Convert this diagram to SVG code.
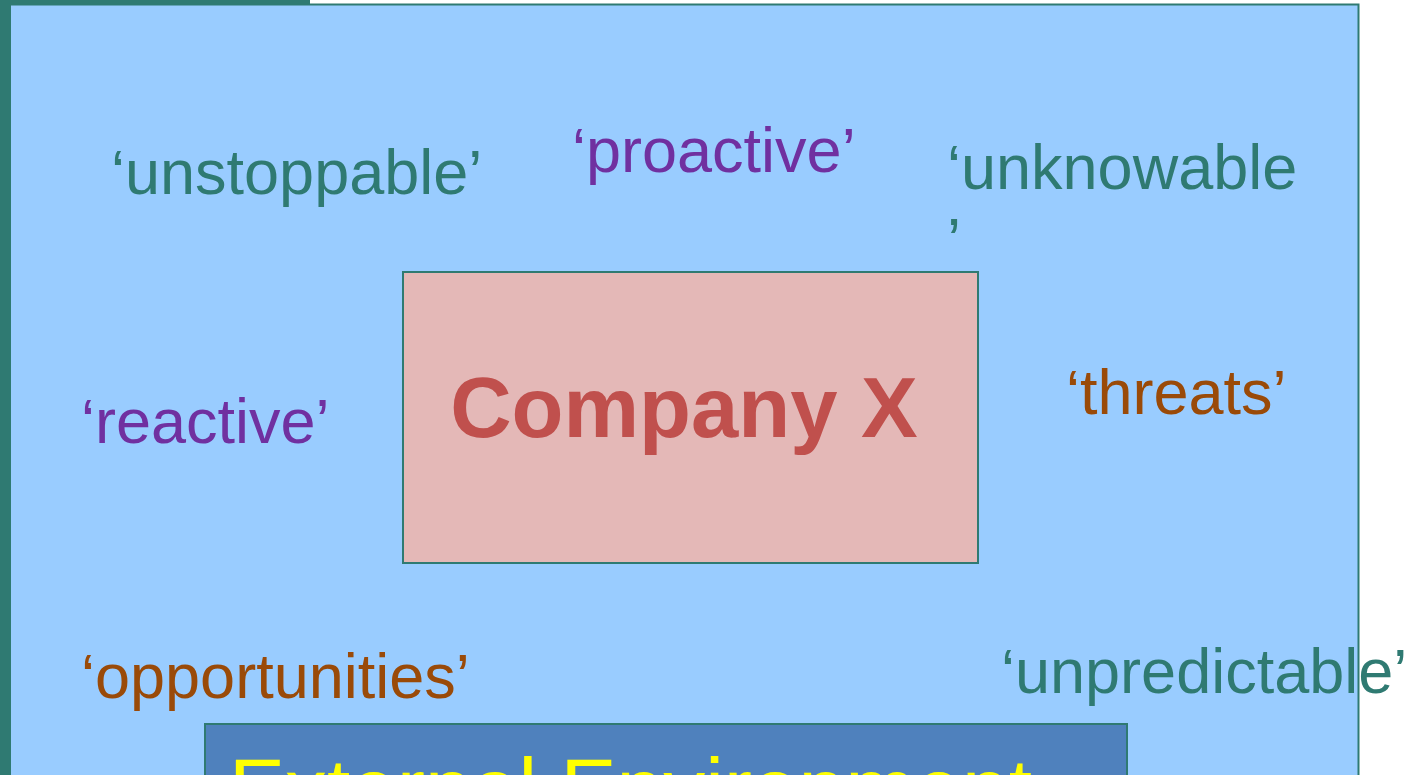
<svg xmlns="http://www.w3.org/2000/svg" width="1420" height="775" viewBox="0 0 1420 775">
<style>
.w{font-family:"Liberation Sans",Arial,sans-serif;font-size:63px}
.teal{fill:#2F7A72}
.purple{fill:#7030A0}
.brown{fill:#9A4A08}
</style>
<rect x="0" y="0" width="1420" height="775" fill="#FFFFFF"/>
<g id="frame">
<rect x="0" y="0" width="310" height="6" fill="#2F7A72"/>
<rect x="0" y="0" width="10" height="775" fill="#2F7A72"/>
<rect x="10" y="4.5" width="1348.5" height="790" fill="#99CCFF" stroke="#2F7A72" stroke-width="2"/>
</g>
<g id="company">
<rect x="403" y="272" width="575" height="291" fill="#E4B8B7" stroke="#2F7A72" stroke-width="2"/>
<text x="684" y="437" text-anchor="middle" font-family="'Liberation Sans',Arial,sans-serif" font-size="85" font-weight="bold" fill="#C0504D">Company X</text>
</g>
<g id="environment">
<rect x="205" y="724" width="922" height="80" fill="#4F81BD" stroke="#2F7A72" stroke-width="2"/>
<text x="229" y="817" font-family="'Liberation Sans',Arial,sans-serif" font-size="84" fill="#FFFF00">External Environment</text>
</g>
<g id="labels">
<text class="w teal" x="111" y="194">‘unstoppable’</text>
<text class="w purple" x="572" y="172">‘proactive’</text>
<text class="w teal" x="947" y="189">‘unknowable</text>
<text class="w teal" x="947" y="262">’</text>
<text class="w purple" x="81" y="443">‘reactive’</text>
<text class="w brown" x="1066" y="414">‘threats’</text>
<text class="w brown" x="81" y="698">‘opportunities’</text>
<text class="w teal" x="1001" y="693">‘unpredictable’</text>
</g>
<g id="connectors"/>
</svg>
